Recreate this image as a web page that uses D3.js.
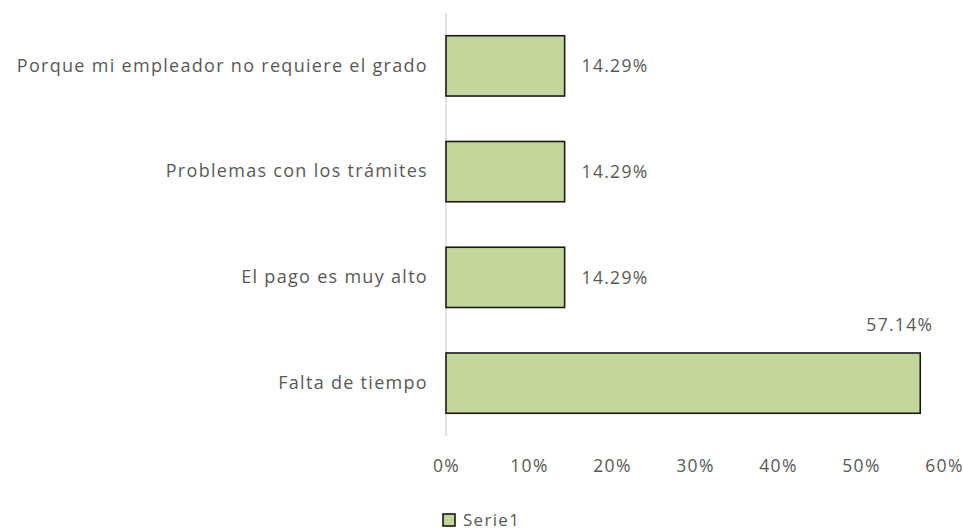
<!DOCTYPE html>
<html>
<head>
<meta charset="utf-8">
<script src="https://cdn.jsdelivr.net/npm/d3@7"></script>
<style>
  body { margin: 0; background: #fff; }
  svg text { font-family: "Open Sans", "Noto Sans", sans-serif; fill: #595959; letter-spacing: 1.3px; }
</style>
</head>
<body>
<svg id="chart" width="963" height="531"></svg>
<script>
var categories = ["Porque mi empleador no requiere el grado", "Problemas con los trámites", "El pago es muy alto", "Falta de tiempo"];
var values = [14.29, 14.29, 14.29, 57.14];
var ticks = [0, 10, 20, 30, 40, 50, 60];
var seriesName = "Serie1";

var svg = d3.select("#chart");

var x = d3.scaleLinear()
    .domain([0, 60])
    .range([446, 944]);

var y = d3.scaleBand()
    .domain(categories)
    .range([13, 436])
    .paddingInner(0.43)
    .paddingOuter(0.215);

// vertical axis line
svg.append("line")
    .attr("x1", x(0)).attr("x2", x(0))
    .attr("y1", 13).attr("y2", 436)
    .attr("stroke", "#d9d9d9")
    .attr("stroke-width", 1.5);

// bottom tick labels
var xAxis = d3.axisBottom(x)
    .tickValues(ticks)
    .tickSize(0)
    .tickPadding(0)
    .tickFormat(function(d) { return d + "%"; });

var gx = svg.append("g")
    .attr("transform", "translate(0,466)")
    .call(xAxis);
gx.select(".domain").remove();
gx.selectAll("text")
    .attr("dy", "0.35em")
    .style("font-size", "17.5px")
    .attr("fill", "#595959");

// category labels
var yAxis = d3.axisLeft(y).tickSize(0).tickPadding(18);
var gy = svg.append("g")
    .attr("transform", "translate(" + x(0) + ",0)")
    .call(yAxis);
gy.select(".domain").remove();
gy.selectAll("text")
    .style("font-size", "18px")
    .attr("fill", "#595959");

// bars
var bar = svg.selectAll(".bar")
    .data(values)
    .enter().append("g")
    .attr("class", "bar");

bar.append("rect")
    .attr("x", x(0))
    .attr("y", function(d, i) { return y(categories[i]); })
    .attr("width", function(d) { return x(d) - x(0); })
    .attr("height", y.bandwidth())
    .attr("fill", "#c3d69b")
    .attr("stroke", "#1a1a1a")
    .attr("stroke-width", 1.6);

bar.append("text")
    .attr("x", function(d) { return d > 50 ? x(d) + 13 : x(d) + 17; })
    .attr("y", function(d, i) { return d > 50 ? y(categories[i]) - 28 : y(categories[i]) + y.bandwidth() / 2; })
    .attr("dy", "0.35em")
    .attr("text-anchor", function(d) { return d > 50 ? "end" : "start"; })
    .style("font-size", "17.5px")
    .text(function(d) { return d.toFixed(2) + "%"; });

// legend
var legend = svg.append("g").attr("transform", "translate(443,514)");
legend.append("rect")
    .attr("width", 12).attr("height", 12)
    .attr("fill", "#c3d69b")
    .attr("stroke", "#1a1a1a")
    .attr("stroke-width", 1.6);
legend.append("text")
    .attr("x", 20).attr("y", 6)
    .attr("dy", "0.35em")
    .style("font-size", "17px")
    .text(seriesName);
</script>
</body>
</html>
